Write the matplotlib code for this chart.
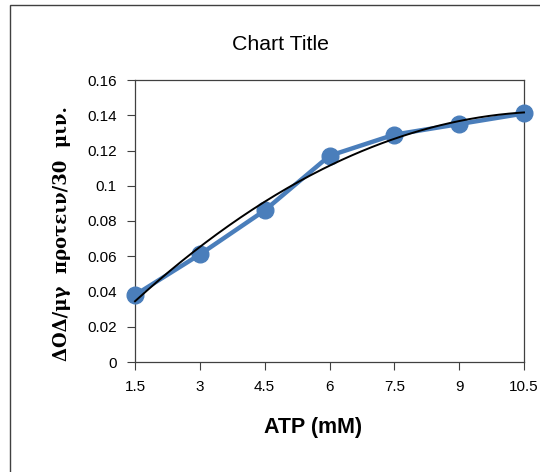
import numpy as np
import matplotlib.pyplot as plt
from matplotlib.patches import Rectangle

atp = [1.5, 3, 4.5, 6, 7.5, 9, 10.5]
delta_od = [0.038, 0.061, 0.086, 0.117, 0.129, 0.135, 0.141]
x_ticks = [1.5, 3, 4.5, 6, 7.5, 9, 10.5]
x_tick_labels = ["1.5", "3", "4.5", "6", "7.5", "9", "10.5"]
y_ticks = [0, 0.02, 0.04, 0.06, 0.08, 0.1, 0.12, 0.14, 0.16]
y_tick_labels = ["0", "0.02", "0.04", "0.06", "0.08", "0.1", "0.12", "0.14", "0.16"]

plt.rcParams["font.family"] = ["Liberation Sans", "DejaVu Sans"]

W, H = 540, 472
fig = plt.figure(figsize=(W / 100, H / 100), dpi=100)

# chart area border (only left/top visible in the crop)
fig.patches.append(Rectangle((10 / W, -0.1), 1.2, 1 - 5 / H + 0.1,
                             transform=fig.transFigure, fill=False,
                             edgecolor="#404040", linewidth=1))

ax = fig.add_axes([135 / W, 1 - 362 / H, (524 - 135) / W, (362 - 80) / H])

# polynomial trendline (order 2)
coef = np.polyfit(atp, delta_od, 2)
xs = np.linspace(atp[0], atp[-1], 200)
ax.plot(atp, delta_od, color="#4A7EBB", linewidth=3.2, marker="o",
        markersize=12, clip_on=False, zorder=3)
ax.plot(xs, np.polyval(coef, xs), color="black", linewidth=1.4,
        clip_on=False, zorder=4)

ax.set_xlim(1.5, 10.5)
ax.set_ylim(0, 0.16)
ax.set_xticks(x_ticks)
ax.set_xticklabels(x_tick_labels)
ax.set_yticks(y_ticks)
ax.set_yticklabels(y_tick_labels)
ax.tick_params(direction="out", length=6, width=0.8, colors="#404040",
               labelcolor="black", labelsize=11, pad=7)
for s in ax.spines.values():
    s.set_color("#404040")
    s.set_linewidth(0.9)

fig.text(281 / W, 1 - 45 / H, "Chart Title", ha="center", va="center",
         fontsize=15.3)
fig.text(313 / W, 1 - 428 / H, "ATP (mM)", ha="center", va="center",
         fontsize=15.5, fontweight="bold")
fig.text(62 / W, 1 - 234 / H, "ΔΟΔ/μγ  προτειν/30  μιν.", ha="center",
         va="center", rotation=90, fontsize=13, fontweight="bold",
         family=["DejaVu Serif"])

fig.savefig("out.png", dpi=100)
